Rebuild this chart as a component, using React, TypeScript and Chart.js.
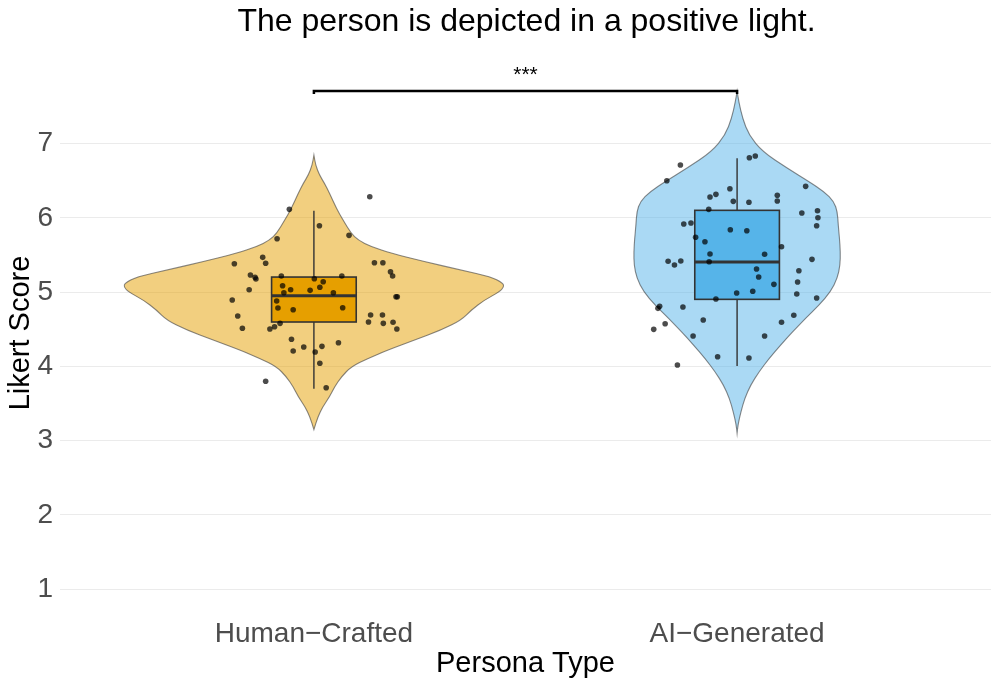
import React, { useEffect, useRef } from 'react';
import { Chart, registerables } from 'chart.js';

Chart.register(...registerables);

const FONT = "'Liberation Sans', Arial, Helvetica, sans-serif";

const categories = ['Human\u2212Crafted', 'AI\u2212Generated'];
const fillColors = ['#E69F00', '#56B4E9'];
const violinFills = ['rgba(230,159,0,0.5)', 'rgba(86,180,233,0.5)'];

const chartTitle = 'The person is depicted in a positive light.';
const xTitle = 'Persona Type';
const yTitle = 'Likert Score';
const yTicks = [1, 2, 3, 4, 5, 6, 7];

// violin outlines: score level and half width (in category units)
const humanViolinY = [6.845, 6.711, 6.576, 6.465, 6.33, 6.128, 5.97, 5.791, 5.701, 5.611, 5.522, 5.409, 5.297, 5.207, 5.118, 5.073, 5.005, 4.894, 4.759, 4.624, 4.49, 4.355, 4.221, 4.109, 3.996, 3.861, 3.727, 3.592, 3.458, 3.323, 3.15];
const humanViolinHalfWidth = [0, 0.004, 0.013, 0.025, 0.037, 0.053, 0.069, 0.088, 0.104, 0.136, 0.183, 0.262, 0.348, 0.419, 0.447, 0.449, 0.439, 0.403, 0.372, 0.348, 0.301, 0.238, 0.175, 0.128, 0.088, 0.065, 0.049, 0.037, 0.021, 0.0095, 0];
const aiViolinY = [7.707, 7.563, 7.339, 7.114, 6.89, 6.666, 6.486, 6.351, 6.217, 6.082, 5.903, 5.724, 5.544, 5.365, 5.186, 5.005, 4.826, 4.647, 4.467, 4.288, 4.109, 3.929, 3.75, 3.571, 3.39, 3.211, 3.1];
const aiViolinHalfWidth = [0, 0.004, 0.013, 0.028, 0.06, 0.119, 0.17, 0.206, 0.229, 0.237, 0.239, 0.242, 0.244, 0.2435, 0.237, 0.221, 0.194, 0.162, 0.131, 0.103, 0.076, 0.052, 0.032, 0.018, 0.009, 0.002, 0];

// box plot statistics [Human, AI]
const boxQ1 = [4.598, 4.903];
const boxMedian = [4.952, 5.405];
const boxQ3 = [5.203, 6.101];
const whiskerLow = [3.7, 4.005];
const whiskerHigh = [6.096, 6.801];
const boxHalfWidth = 0.1;

// jittered individual scores
const humanJitter = [0.132, -0.058, 0.013, -0.087, 0.083, -0.188, -0.121, -0.114, 0.143, 0.163, -0.15, -0.139, -0.137, -0.077, 0.001, 0.066, 0.181, 0.186, 0.022, -0.074, -0.055, 0.014, -0.009, -0.071, 0.046, -0.153, -0.193, 0.194, 0.197, -0.088, -0.085, -0.049, 0.068, -0.18, 0.134, 0.162, 0.129, 0.164, 0.187, 0.196, -0.169, -0.104, -0.093, -0.08, -0.053, 0.058, -0.049, -0.024, 0.019, 0.003, 0.014, -0.114, 0.029];
const humanScores = [6.284, 6.114, 5.894, 5.719, 5.764, 5.382, 5.468, 5.388, 5.396, 5.396, 5.23, 5.199, 5.176, 5.217, 5.18, 5.217, 5.275, 5.217, 5.14, 5.086, 5.032, 5.065, 5.024, 4.992, 4.992, 5.032, 4.894, 4.938, 4.938, 4.88, 4.786, 4.763, 4.79, 4.678, 4.692, 4.692, 4.598, 4.58, 4.594, 4.503, 4.513, 4.503, 4.534, 4.58, 4.365, 4.319, 4.207, 4.261, 4.27, 4.194, 4.042, 3.8, 3.713];
const aiJitter = [-0.134, -0.166, 0.029, 0.043, 0.162, -0.017, -0.064, -0.05, -0.009, 0.028, 0.095, 0.095, -0.067, 0.153, 0.19, 0.191, 0.188, -0.126, -0.109, -0.016, 0.023, -0.098, -0.076, 0.105, -0.064, 0.065, -0.163, -0.148, -0.133, -0.066, 0.177, 0.046, 0.146, 0.051, 0.143, 0.087, -0.001, 0.037, 0.141, 0.188, -0.05, -0.187, -0.183, -0.128, 0.134, 0.105, -0.08, -0.17, -0.197, -0.104, 0.065, -0.046, 0.028, -0.141];
const aiScores = [6.711, 6.499, 6.809, 6.832, 6.424, 6.392, 6.28, 6.316, 6.222, 6.209, 6.303, 6.226, 6.114, 6.065, 6.096, 6.001, 5.894, 5.917, 5.93, 5.84, 5.826, 5.738, 5.678, 5.611, 5.513, 5.509, 5.415, 5.365, 5.419, 5.409, 5.441, 5.311, 5.288, 5.203, 5.136, 5.105, 4.988, 5.011, 4.974, 4.921, 4.907, 4.782, 4.809, 4.799, 4.688, 4.594, 4.624, 4.575, 4.499, 4.409, 4.409, 4.131, 4.113, 4.019];

// significance bracket
const bracketY = 7.707;
const bracketTip = 0.04;
const bracketLabel = '***';

const violinBoxPlugin = {
  id: 'violinBox',
  beforeDatasetsDraw(chart: any) {
    const { ctx, scales } = chart;
    const xs = scales.x;
    const ys = scales.y;
    const violins: [number[], number[]][] = [
      [humanViolinY, humanViolinHalfWidth],
      [aiViolinY, aiViolinHalfWidth],
    ];
    violins.forEach(([vy, hw], i) => {
      const c = i + 1;
      const pts: [number, number][] = [];
      for (let k = 0; k < vy.length; k++) pts.push([xs.getPixelForValue(c - hw[k]), ys.getPixelForValue(vy[k])]);
      for (let k = vy.length - 1; k >= 0; k--) pts.push([xs.getPixelForValue(c + hw[k]), ys.getPixelForValue(vy[k])]);
      const n = pts.length;
      ctx.save();
      ctx.beginPath();
      const mid = (a: [number, number], b: [number, number]) => [(a[0] + b[0]) / 2, (a[1] + b[1]) / 2];
      const m0 = mid(pts[0], pts[1]);
      ctx.moveTo(pts[0][0], pts[0][1]);
      ctx.lineTo(m0[0], m0[1]);
      for (let k = 1; k < n - 1; k++) {
        const m = mid(pts[k], pts[k + 1]);
        ctx.quadraticCurveTo(pts[k][0], pts[k][1], m[0], m[1]);
      }
      ctx.lineTo(pts[n - 1][0], pts[n - 1][1]);
      ctx.closePath();
      ctx.fillStyle = violinFills[i];
      ctx.fill();
      ctx.strokeStyle = 'rgba(60,60,60,0.6)';
      ctx.lineWidth = 1.1;
      ctx.stroke();
      ctx.restore();
    });
    // boxes
    for (let i = 0; i < 2; i++) {
      const c = i + 1;
      const xl = xs.getPixelForValue(c - boxHalfWidth);
      const xr = xs.getPixelForValue(c + boxHalfWidth);
      const xc = xs.getPixelForValue(c);
      const yq1 = ys.getPixelForValue(boxQ1[i]);
      const yq3 = ys.getPixelForValue(boxQ3[i]);
      const ym = ys.getPixelForValue(boxMedian[i]);
      const ylo = ys.getPixelForValue(whiskerLow[i]);
      const yhi = ys.getPixelForValue(whiskerHigh[i]);
      ctx.save();
      ctx.strokeStyle = '#333333';
      ctx.lineWidth = 1.4;
      ctx.beginPath();
      ctx.moveTo(xc, yq3);
      ctx.lineTo(xc, yhi);
      ctx.moveTo(xc, yq1);
      ctx.lineTo(xc, ylo);
      ctx.stroke();
      ctx.fillStyle = fillColors[i];
      ctx.fillRect(xl, yq3, xr - xl, yq1 - yq3);
      ctx.lineWidth = 1.6;
      ctx.strokeRect(xl, yq3, xr - xl, yq1 - yq3);
      ctx.lineWidth = 3;
      ctx.beginPath();
      ctx.moveTo(xl, ym);
      ctx.lineTo(xr, ym);
      ctx.stroke();
      ctx.restore();
    }
  },
  afterDatasetsDraw(chart: any) {
    const { ctx, scales, chartArea } = chart;
    const xs = scales.x;
    const ys = scales.y;
    const x1 = xs.getPixelForValue(1);
    const x2 = xs.getPixelForValue(2);
    const yb = ys.getPixelForValue(bracketY);
    const yt = ys.getPixelForValue(bracketY - bracketTip);
    ctx.save();
    ctx.strokeStyle = '#000000';
    ctx.lineWidth = 2.5;
    ctx.lineJoin = 'miter';
    ctx.beginPath();
    ctx.moveTo(x1, yt);
    ctx.lineTo(x1, yb);
    ctx.lineTo(x2, yb);
    ctx.lineTo(x2, yt);
    ctx.stroke();
    ctx.fillStyle = '#000000';
    ctx.font = `21px ${FONT}`;
    ctx.textAlign = 'center';
    ctx.textBaseline = 'alphabetic';
    ctx.fillText(bracketLabel, (x1 + x2) / 2, yb - 10);
    // main title
    ctx.font = `32px ${FONT}`;
    ctx.fillText(chartTitle, (chartArea.left + chartArea.right) / 2 + 1, 31);
    ctx.restore();
  },
};

export default function App() {
  const ref = useRef<HTMLCanvasElement>(null);
  useEffect(() => {
    document.body.style.margin = '0';
    const canvas = ref.current;
    if (!canvas) return;
    const humanPoints = humanScores.map((v, k) => ({ x: 1 + humanJitter[k], y: v }));
    const aiPoints = aiScores.map((v, k) => ({ x: 2 + aiJitter[k], y: v }));
    const chart = new Chart(canvas, {
      type: 'scatter',
      data: {
        datasets: [
          { label: categories[0], data: humanPoints, pointRadius: 2.8, pointBackgroundColor: 'rgba(0,0,0,0.7)', pointBorderWidth: 0, borderWidth: 0 },
          { label: categories[1], data: aiPoints, pointRadius: 2.8, pointBackgroundColor: 'rgba(0,0,0,0.7)', pointBorderWidth: 0, borderWidth: 0 },
        ],
      },
      options: {
        responsive: false,
        animation: false,
        devicePixelRatio: 1,
        layout: { padding: { top: 52, right: 6, bottom: 3, left: 0 } },
        plugins: {
          legend: { display: false },
          tooltip: { enabled: false },
          title: { display: false },
        },
        scales: {
          x: {
            type: 'linear',
            min: 0.4,
            max: 2.6,
            afterBuildTicks: (s: any) => { s.ticks = [{ value: 1 }, { value: 2 }]; },
            afterFit: (s: any) => { s.height = 70; },
            grid: { display: false, drawTicks: false },
            border: { display: false },
            ticks: {
              autoSkip: false,
              maxRotation: 0,
              padding: 3,
              color: '#4D4D4D',
              font: { family: FONT, size: 28 },
              callback: (v: any) => categories[Math.round(Number(v)) - 1] ?? '',
            },
            title: { display: true, text: xTitle, color: '#000000', font: { family: FONT, size: 29 }, padding: { top: 0, bottom: 3 } },
          },
          y: {
            type: 'linear',
            min: 0.668,
            max: 8.232,
            afterBuildTicks: (s: any) => { s.ticks = yTicks.map((v) => ({ value: v })); },
            afterFit: (s: any) => { s.width = 60; },
            grid: { color: '#EBEBEB', lineWidth: 1.1, drawTicks: false },
            border: { display: false },
            ticks: {
              padding: 7,
              color: '#4D4D4D',
              font: { family: FONT, size: 28 },
              callback: (v: any) => String(v),
            },
            title: { display: true, text: yTitle, color: '#000000', font: { family: FONT, size: 29 }, padding: { top: 4, bottom: 0 } },
          },
        },
      },
      plugins: [violinBoxPlugin],
    } as any);
    return () => chart.destroy();
  }, []);
  return (
    <div style={{ position: 'absolute', left: 0, top: 0, width: 997, height: 687, background: '#ffffff' }}>
      <canvas ref={ref} width={997} height={687} style={{ display: 'block' }} />
    </div>
  );
}
